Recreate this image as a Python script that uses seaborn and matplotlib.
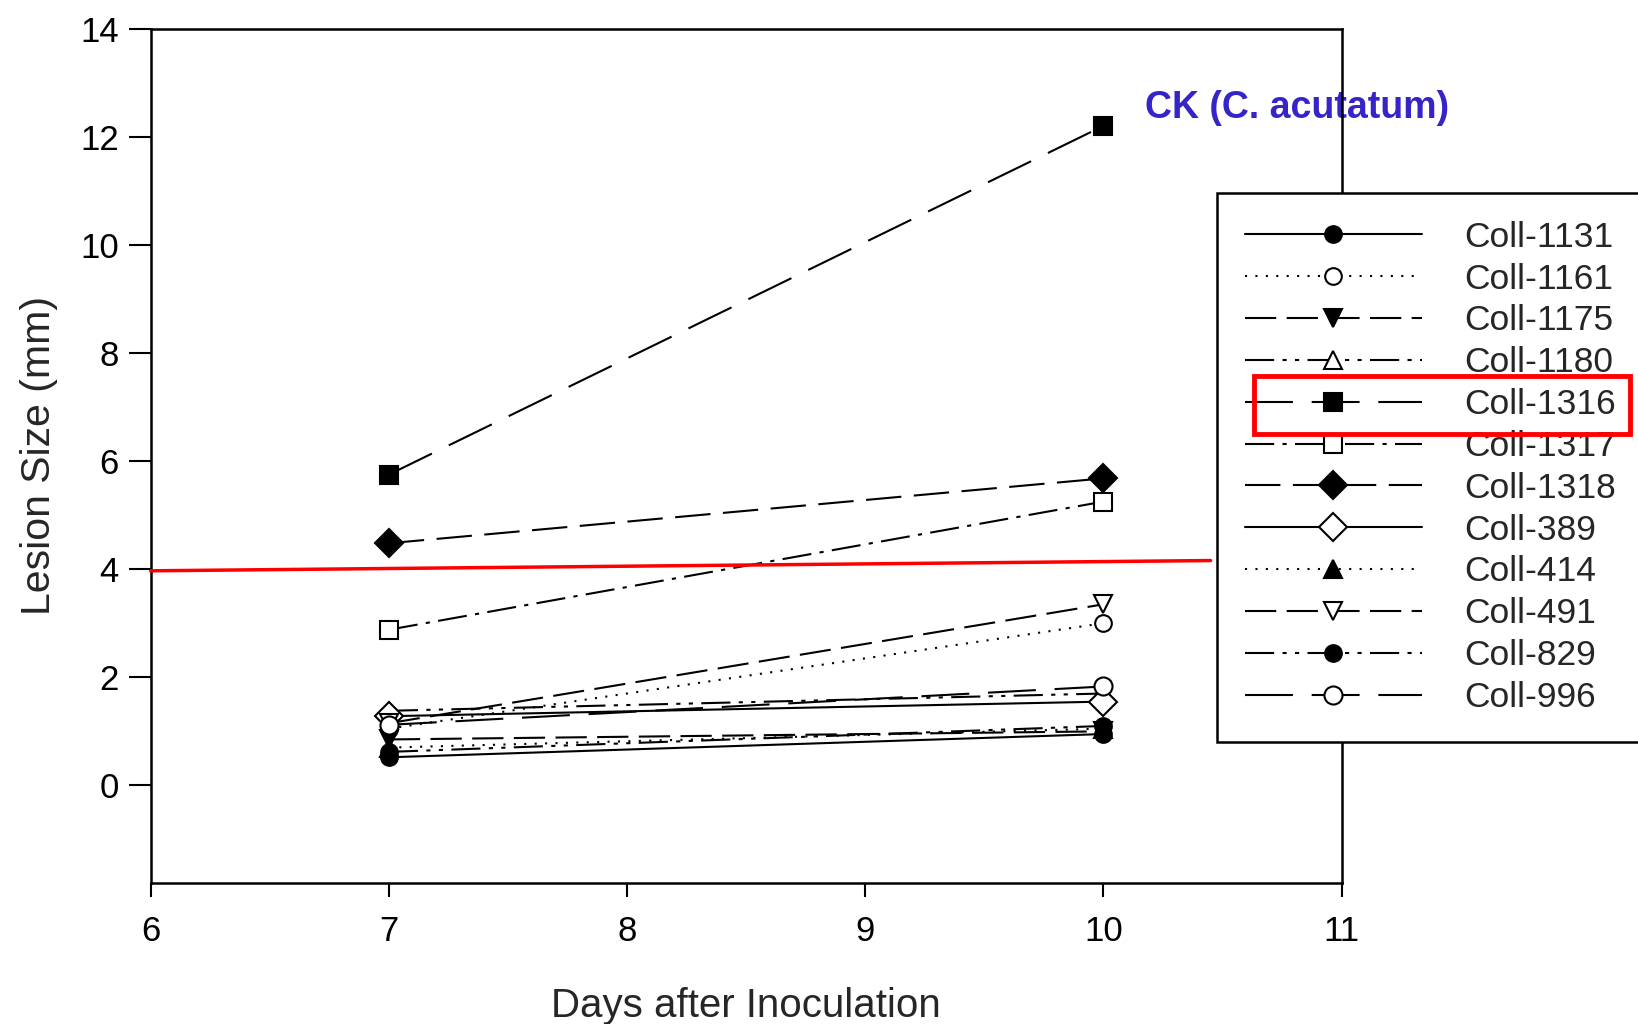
import matplotlib
matplotlib.use("Agg")
import matplotlib.pyplot as plt
import matplotlib.patches as patches
import seaborn as sns
import pandas as pd

# days after inoculation
days = [7, 10]

strains = ["Coll-1131", "Coll-1161", "Coll-1175", "Coll-1180", "Coll-1316", "Coll-1317",
           "Coll-1318", "Coll-389", "Coll-414", "Coll-491", "Coll-829", "Coll-996"]

# lesion size (mm) at day 7 and day 10
coll_1131 = [0.52, 0.95]
coll_1161 = [1.05, 3.00]
coll_1175 = [0.85, 1.00]
coll_1180 = [1.38, 1.70]
coll_1316 = [5.75, 12.20]
coll_1317 = [2.88, 5.25]
coll_1318 = [4.48, 5.68]
coll_389 = [1.28, 1.55]
coll_414 = [0.70, 1.05]
coll_491 = [1.15, 3.35]
coll_829 = [0.62, 1.10]
coll_996 = [1.12, 1.83]

sizes = [coll_1131, coll_1161, coll_1175, coll_1180, coll_1316, coll_1317,
         coll_1318, coll_389, coll_414, coll_491, coll_829, coll_996]

# hand-drawn red threshold line (x, y)
threshold_x = [6.0, 10.45]
threshold_y = [3.97, 4.16]

rows = []
for name, vals in zip(strains, sizes):
    for d, v in zip(days, vals):
        rows.append({"Strain": name, "Day": d, "Size": v})
df = pd.DataFrame(rows)

solid = "-"
dotted = (0, (1, 4))
dashed = (0, (15, 5))
long_dash = (0, (23, 9))
mid_dash = (0, (17, 6))
dash_dot = (0, (14, 4, 2, 4))
dash_dot_dot = (0, (14, 4, 2, 4, 2, 4))

# marker, filled, linestyle, marker size
styles = {
    "Coll-1131": ("o", True, solid, 12),
    "Coll-1161": ("o", False, dotted, 12),
    "Coll-1175": ("v", True, dashed, 13),
    "Coll-1180": ("^", False, dash_dot_dot, 13),
    "Coll-1316": ("s", True, long_dash, 13),
    "Coll-1317": ("s", False, dash_dot, 13),
    "Coll-1318": ("D", True, mid_dash, 14),
    "Coll-389": ("D", False, solid, 14),
    "Coll-414": ("^", True, dotted, 13),
    "Coll-491": ("v", False, dashed, 13),
    "Coll-829": ("o", True, dash_dot_dot, 12),
    "Coll-996": ("o", False, long_dash, 13),
}

sns.set_style("ticks")
plt.rcParams['font.family'] = ['Liberation Sans', 'DejaVu Sans']

fig = plt.figure(figsize=(16.38, 10.24), dpi=100)
ax = fig.add_axes([0.092, 0.138, 0.727, 0.834])

handles = []
for name in strains:
    marker, filled, ls, ms = styles[name]
    sub = df[df["Strain"] == name]
    sns.lineplot(data=sub, x="Day", y="Size", ax=ax, color="black", linewidth=1.5,
                 linestyle=ls, marker=marker, markersize=ms,
                 markerfacecolor="black" if filled else "white",
                 markeredgecolor="black", markeredgewidth=1.5, label=name, legend=False)
    handles.append(ax.lines[-1])

ax.plot(threshold_x, threshold_y, color="#ff0000", linewidth=2.5, clip_on=False, zorder=5)

ax.set_xlim(6, 11)
ax.set_ylim(-1.8, 14)
ax.set_xticks([6, 7, 8, 9, 10, 11])
ax.set_yticks([0, 2, 4, 6, 8, 10, 12, 14])
ax.tick_params(axis="both", labelsize=25, colors="black", width=1.5)
ax.tick_params(axis="y", length=16, pad=7)
ax.tick_params(axis="x", length=10, pad=13)
for s in ax.spines.values():
    s.set_linewidth(1.8)
    s.set_color("black")
    s.set_visible(True)

ax.set_xlabel("Days after Inoculation", fontsize=29, labelpad=28)
ax.set_ylabel("Lesion Size (mm)", fontsize=29.5, labelpad=16)

leg = ax.legend(handles, strains, loc="upper left", bbox_to_anchor=(0.743, 0.8115),
                bbox_transform=fig.transFigure, borderaxespad=0, fontsize=25.5,
                frameon=True, fancybox=False, handlelength=5.0, handletextpad=1.2,
                labelspacing=0.25, borderpad=0.78, numpoints=1)
leg.get_frame().set_edgecolor("black")
leg.get_frame().set_linewidth(1.8)
leg.get_frame().set_facecolor("white")
leg.get_frame().set_alpha(1)

# red box around Coll-1316 in the legend
rect = patches.Rectangle((0.7656, 0.5762), 0.2296, 0.0566, transform=fig.transFigure,
                         fill=False, edgecolor="#ff0000", linewidth=3.5, zorder=10)
fig.patches.append(rect)

ax.text(0.699, 0.895, "CK (C. acutatum)", transform=fig.transFigure, fontsize=27,
        fontweight="bold", color="#3524c8", ha="left", va="center", zorder=2)

fig.savefig("out.png", dpi=100)
